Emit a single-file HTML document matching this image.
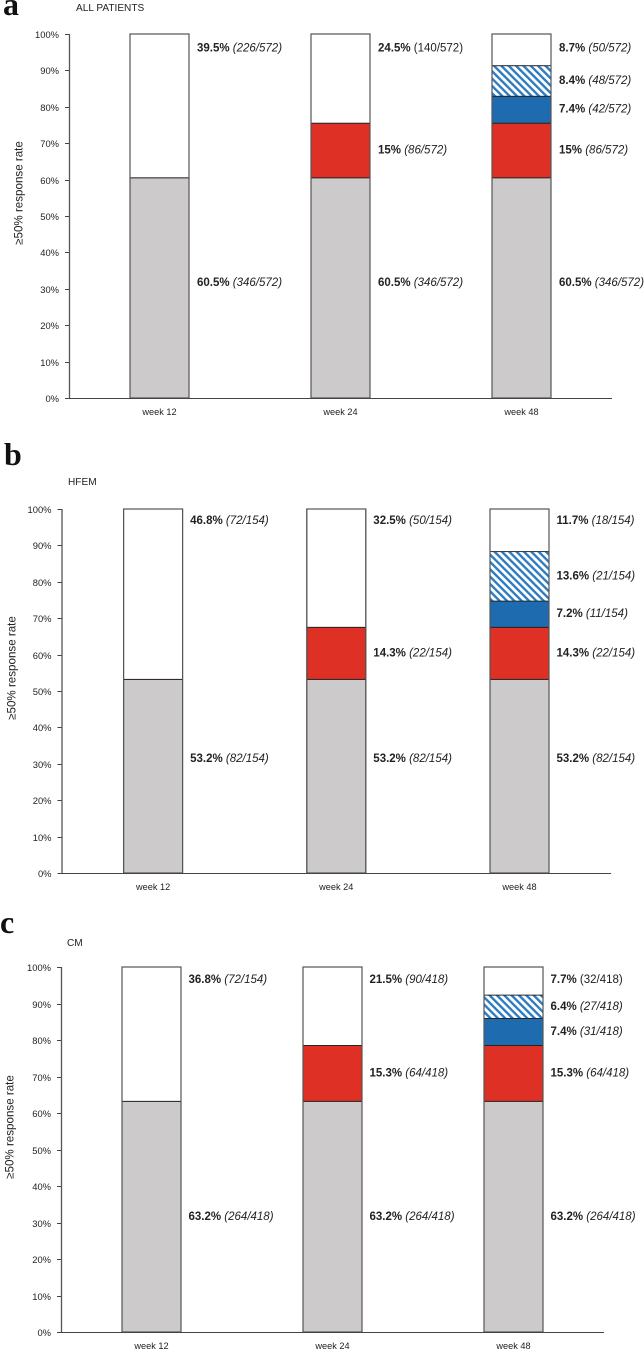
<!DOCTYPE html>
<html lang="en">
<head>
<meta charset="utf-8">
<title>Response rate by week</title>
<style>
  html, body { margin: 0; padding: 0; background: #fff; }
  #stage { display: block; width: 644px; height: 1350px; filter: blur(0.3px); }
  text { font-family: "Liberation Sans", sans-serif; fill: #222; }
  .letter { font-family: "Liberation Serif", serif; font-weight: bold; fill: #111; }
</style>
</head>
<body>
<svg id="stage" xmlns="http://www.w3.org/2000/svg" width="644" height="1350" viewBox="0 0 644 1350">
  <defs>
    <pattern id="hatch" patternUnits="userSpaceOnUse" width="5.2" height="5.2" patternTransform="rotate(-45)">
      <rect width="5.2" height="5.2" fill="#fff"></rect>
      <rect width="2.4" height="5.2" fill="#2f7cc0"></rect>
    </pattern>
  </defs>
</svg>
<script>
const categories = ['week 12', 'week 24', 'week 48'];
const tickValues = [0, 10, 20, 30, 40, 50, 60, 70, 80, 90, 100];
const seriesOrder = ['gray', 'red', 'blue', 'hatch', 'white'];

const aGray = [60.5, 60.5, 60.5];
const aRed = [0, 15, 15];
const aBlue = [0, 0, 7.4];
const aHatch = [0, 0, 8.4];
const aWhite = [39.5, 24.5, 8.7];
const aGrayCounts = ['346/572', '346/572', '346/572'];
const aRedCounts = ['', '86/572', '86/572'];
const aBlueCounts = ['', '', '42/572'];
const aHatchCounts = ['', '', '48/572'];
const aWhiteCounts = ['226/572', '140/572', '50/572'];
const aWhiteUpright = [false, true, false];

const bGray = [53.2, 53.2, 53.2];
const bRed = [0, 14.3, 14.3];
const bBlue = [0, 0, 7.2];
const bHatch = [0, 0, 13.6];
const bWhite = [46.8, 32.5, 11.7];
const bGrayCounts = ['82/154', '82/154', '82/154'];
const bRedCounts = ['', '22/154', '22/154'];
const bBlueCounts = ['', '', '11/154'];
const bHatchCounts = ['', '', '21/154'];
const bWhiteCounts = ['72/154', '50/154', '18/154'];
const bWhiteUpright = [false, false, false];

const cGray = [63.2, 63.2, 63.2];
const cRed = [0, 15.3, 15.3];
const cBlue = [0, 0, 7.4];
const cHatch = [0, 0, 6.4];
const cWhite = [36.8, 21.5, 7.7];
const cGrayCounts = ['264/418', '264/418', '264/418'];
const cRedCounts = ['', '64/418', '64/418'];
const cBlueCounts = ['', '', '31/418'];
const cHatchCounts = ['', '', '27/418'];
const cWhiteCounts = ['72/154', '90/418', '32/418'];
const cWhiteUpright = [false, false, true];

const fills = { gray: '#cccaca', red: '#de3024', blue: '#1f6bb0', hatch: 'url(#hatch)', white: '#ffffff' };
const NS = 'http://www.w3.org/2000/svg';
const stage = document.getElementById('stage');

function make(tag, attrs, text) {
  const el = document.createElementNS(NS, tag);
  for (const k in attrs) el.setAttribute(k, attrs[k]);
  if (text !== undefined) el.textContent = text;
  return el;
}

function drawPanel(p) {
  const yOf = v => p.y0 - (v / 100) * (p.y0 - p.y100);
  const xOf = i => p.axisX + p.step * (i + 0.5);
  const barW = 59;

  const group = make('g', {});
  
  
  stage.appendChild(group);

  const letter = make('text', { x: p.letterX, y: p.letterY, 'font-size': 32, class: 'letter' }, p.id);
  
  
  group.appendChild(letter);

  const title = make('text', { x: p.titleX, y: p.titleY, 'font-size': 10.1 }, p.title);
  
  
  group.appendChild(title);

  const yTitle = make('text', {
    x: 0, y: 0, 'font-size': 11.6, 'text-anchor': 'middle', 'dominant-baseline': 'central',
    transform: 'translate(' + p.yTitleX + ' ' + p.yTitleY + ') rotate(-90)'
  }, '\u226550% response rate');
  
  
  group.appendChild(yTitle);

  tickValues.forEach(v => {
    const y = Math.round(yOf(v)) + 0.5;
    const tick = make('line', { x1: p.axisX - 4, x2: p.axisX, y1: y, y2: y, stroke: '#444', 'stroke-width': 1 });
    
    
    group.appendChild(tick);
    const label = make('text', { x: p.axisX - 10, y: y, 'font-size': 9.4, 'text-anchor': 'end', 'dominant-baseline': 'central' }, v + '%');
    
    
    group.appendChild(label);
  });

  const yAxis = make('line', { x1: p.axisX + 0.5, x2: p.axisX + 0.5, y1: yOf(100), y2: yOf(0), stroke: '#555', 'stroke-width': 1.3 });
  
  
  group.appendChild(yAxis);

  categories.forEach((cat, i) => {
    const left = xOf(i) - barW / 2;
    let base = 0;
    seriesOrder.forEach(s => {
      const v = p.values[s][i];
      if (!v) return;
      const top = base + v;
      const seg = make('rect', {
        x: left, y: yOf(top), width: barW, height: yOf(base) - yOf(top),
        fill: fills[s], stroke: '#222', 'stroke-width': 0.9
      });
      
      
      group.appendChild(seg);

      let labelValue = base + v / 2;
      if (s === 'white') labelValue = Math.max(labelValue, p.whiteLabelAt);
      if (s === 'gray') labelValue = p.grayLabelAt;
      const label = make('text', { x: left + barW + p.labelGap, y: yOf(labelValue), 'font-size': 11.5, 'dominant-baseline': 'central' });
      
      
      const strong = make('tspan', { 'font-weight': 'bold' }, v + '%');
      const upright = s === 'white' && p.whiteUpright[i];
      const count = make('tspan', { 'font-style': upright ? 'normal' : 'italic' }, ' (' + p.counts[s][i] + ')');
      label.appendChild(strong);
      label.appendChild(count);
      group.appendChild(label);
      base = top;
    });
    const outline = make('rect', { x: left, y: yOf(100), width: barW, height: yOf(0) - yOf(100), fill: 'none', stroke: '#555', 'stroke-width': 1.2 });
    
    
    group.appendChild(outline);

    const catLabel = make('text', { x: xOf(i), y: p.y0 + 14, 'font-size': 9.2, 'text-anchor': 'middle', 'dominant-baseline': 'central' }, cat);
    
    
    group.appendChild(catLabel);
  });

  const xAxis = make('line', { x1: p.axisX - 4, x2: p.axisX + p.step * categories.length, y1: p.y0 + 0.5, y2: p.y0 + 0.5, stroke: '#444', 'stroke-width': 1.1 });
  
  
  group.appendChild(xAxis);
}

drawPanel({
  id: 'a', title: 'ALL PATIENTS',
  letterX: 3, letterY: 15, titleX: 76, titleY: 11,
  yTitleX: 19, yTitleY: 193, axisX: 69, step: 181, y0: 398, y100: 34, labelGap: 8,
  whiteLabelAt: 96, grayLabelAt: 31.6,
  values: { gray: aGray, red: aRed, blue: aBlue, hatch: aHatch, white: aWhite },
  counts: { gray: aGrayCounts, red: aRedCounts, blue: aBlueCounts, hatch: aHatchCounts, white: aWhiteCounts },
  whiteUpright: aWhiteUpright
});
drawPanel({
  id: 'b', title: 'HFEM',
  letterX: 4, letterY: 465, titleX: 68, titleY: 485,
  yTitleX: 12, yTitleY: 668, axisX: 61.5, step: 183.2, y0: 873, y100: 509, labelGap: 7.5,
  whiteLabelAt: 96.7, grayLabelAt: 31.3,
  values: { gray: bGray, red: bRed, blue: bBlue, hatch: bHatch, white: bWhite },
  counts: { gray: bGrayCounts, red: bRedCounts, blue: bBlueCounts, hatch: bHatchCounts, white: bWhiteCounts },
  whiteUpright: bWhiteUpright
});
drawPanel({
  id: 'c', title: 'CM',
  letterX: 0, letterY: 933, titleX: 67, titleY: 946,
  yTitleX: 10, yTitleY: 1127, axisX: 61, step: 181, y0: 1332, y100: 967, labelGap: 7.5,
  whiteLabelAt: 96.4, grayLabelAt: 31.5,
  values: { gray: cGray, red: cRed, blue: cBlue, hatch: cHatch, white: cWhite },
  counts: { gray: cGrayCounts, red: cRedCounts, blue: cBlueCounts, hatch: cHatchCounts, white: cWhiteCounts },
  whiteUpright: cWhiteUpright
});
</script>
</body>
</html>
